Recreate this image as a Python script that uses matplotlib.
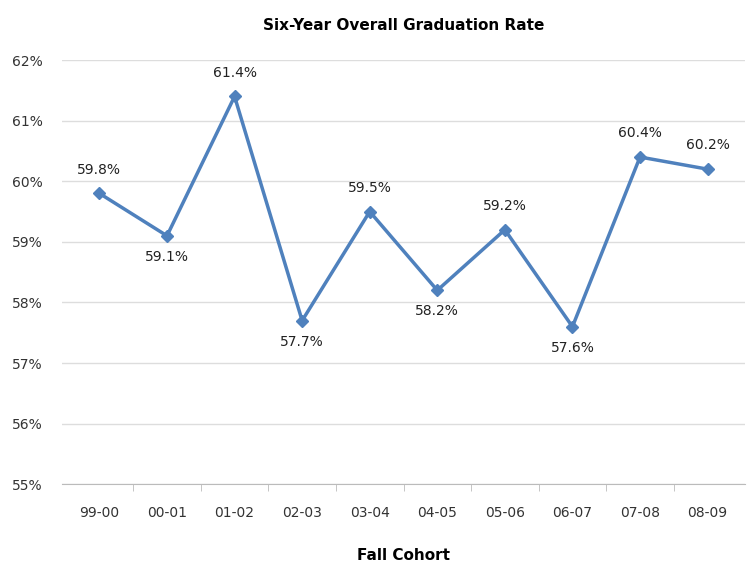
import matplotlib
matplotlib.use("Agg")
import matplotlib.pyplot as plt

cohorts = ["99-00", "00-01", "01-02", "02-03", "03-04", "04-05", "05-06", "06-07", "07-08", "08-09"]
rates = [59.8, 59.1, 61.4, 57.7, 59.5, 58.2, 59.2, 57.6, 60.4, 60.2]
label_above = [True, False, True, False, True, False, True, False, True, True]
y_ticks = [55, 56, 57, 58, 59, 60, 61, 62]

fig = plt.figure(figsize=(7.5, 5.67), dpi=100)
ax = fig.add_axes([0.083, 0.146, 0.91, 0.748])

x = list(range(len(cohorts)))
ax.plot(x, rates, color="#4F81BD", linewidth=2.5, marker="D", markersize=6, zorder=3)

for xi, r, up in zip(x, rates, label_above):
    off = 12 if up else -10
    ax.annotate(f"{r:.1f}%", (xi, r), xytext=(0, off), textcoords="offset points",
                ha="center", va="bottom" if up else "top", fontsize=10, color="#222222")

ax.set_xlim(-0.55, len(cohorts) - 0.45)
ax.set_ylim(55, 62)
ax.set_yticks(y_ticks)
ax.set_yticklabels([f"{t}%" for t in y_ticks], fontsize=10, color="#333333")
ax.set_xticks(x)
ax.set_xticklabels(cohorts, fontsize=10, color="#333333")
ax.tick_params(axis="x", length=0, pad=16)
ax.tick_params(axis="y", length=0, pad=14)

# category separators on the bottom axis
ax.set_xticks([i + 0.5 for i in x[:-1]], minor=True)
ax.tick_params(axis="x", which="minor", length=5, color="#BBBBBB", direction="out")

ax.grid(axis="y", color="#DDDDDD", linewidth=1)
ax.set_axisbelow(True)
for side in ["top", "right", "left"]:
    ax.spines[side].set_visible(False)
ax.spines["bottom"].set_color("#BBBBBB")

ax.set_title("Six-Year Overall Graduation Rate", fontsize=11, fontweight="bold", pad=22)
ax.set_xlabel("Fall Cohort", fontsize=11, fontweight="bold", labelpad=20)

fig.savefig("out.png", dpi=100)
